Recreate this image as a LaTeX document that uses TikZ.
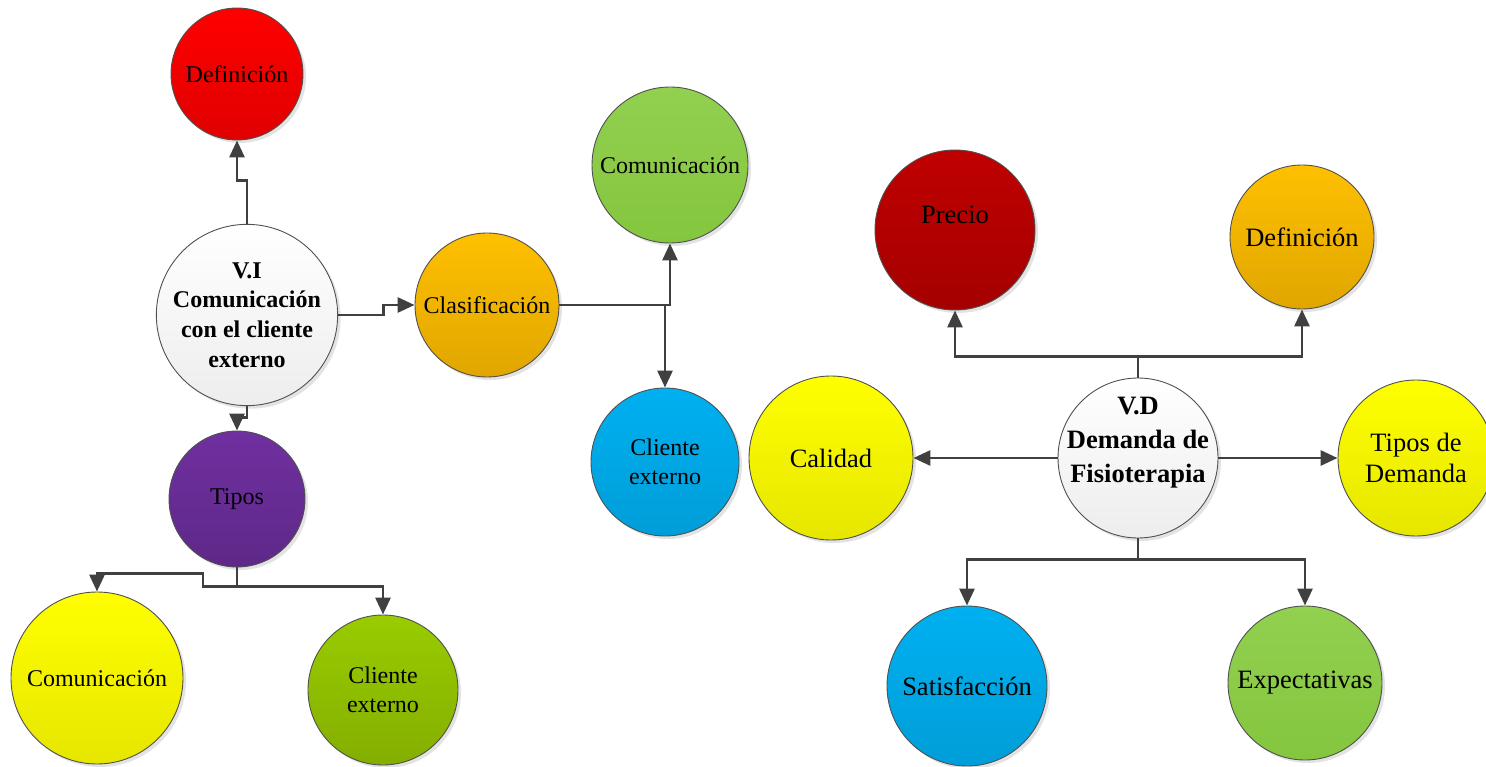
\documentclass[tikz,border=0pt]{standalone}
\usepackage{fontspec}
\setmainfont{Liberation Serif}
\usetikzlibrary{arrows.meta,shadows,calc}

\definecolor{linegrey}{HTML}{404040}
\definecolor{rimgrey}{HTML}{505050}
\definecolor{whiteA}{HTML}{FFFFFF}   \definecolor{whiteB}{HTML}{EDEDED}
\definecolor{redA}{HTML}{FF0000}     \definecolor{redB}{HTML}{E00000}
\definecolor{orangeA}{HTML}{FFC000}  \definecolor{orangeB}{HTML}{E0A600}
\definecolor{lgreenA}{HTML}{92D050}  \definecolor{lgreenB}{HTML}{84C63E}
\definecolor{blueA}{HTML}{00B0F0}    \definecolor{blueB}{HTML}{009ED8}
\definecolor{purpleA}{HTML}{7030A0}  \definecolor{purpleB}{HTML}{5E2888}
\definecolor{yellowA}{HTML}{FFFF00}  \definecolor{yellowB}{HTML}{E6E600}
\definecolor{oliveA}{HTML}{99CC00}   \definecolor{oliveB}{HTML}{84AE00}
\definecolor{dredA}{HTML}{C00000}    \definecolor{dredB}{HTML}{A40000}

\tikzset{
  bubble/.style={circle, draw=rimgrey, line width=0.9pt, inner sep=0pt, align=center,
    text=black, minimum size=#1,
    drop shadow={shadow xshift=3pt, shadow yshift=-3pt, opacity=0.18, fill=black!60}},
  smalltxt/.style={font=\fontsize{24}{29.5}\selectfont},
  bigtxt/.style={font=\fontsize{26.5}{31}\selectfont},
  grad/.style={top color=#1A, bottom color=#1B},
  conn/.style={draw=linegrey, line width=2.9pt,
    -{Triangle[length=17pt,width=15pt]}},
}

\begin{document}
\begin{tikzpicture}[x=1pt,y=-1pt]
\useasboundingbox (0,0) rectangle (1486,767);

% ---------- independent variable ----------
\node[bubble=174pt, grad=white, font=\fontsize{24}{29.7}\selectfont\bfseries] (vi) at (247,315)
      {V.I\\Comunicación\\con el cliente\\externo};
\node[bubble=132pt, grad=red, smalltxt] (defl) at (237,74) {Definición};
\node[bubble=144pt, grad=orange, smalltxt] (clas) at (487,305) {Clasificación};
\node[bubble=156pt, grad=lgreen, smalltxt] (comg) at (670,165) {Comunicación};
\node[bubble=148pt, grad=blue, smalltxt] (cli) at (665,462) {Cliente\\externo};
\node[bubble=136pt, grad=purple, smalltxt] (tipos) at (237,499) {Tipos};
\node[bubble=172pt, grad=yellow, smalltxt] (comy) at (97,678) {Comunicación};
\node[bubble=150pt, grad=olive, smalltxt] (cle2) at (383,690) {Cliente\\externo};

% ---------- dependent variable ----------
\node[bubble=160pt, grad=white,
      label={[font=\fontsize{26.5}{34}\selectfont\bfseries, align=center, yshift=15pt]center:{V.D\\Demanda de\\Fisioterapia}}]
      (vd) at (1138,458) {};
\node[bubble=160pt, grad=dred,
      label={[bigtxt, yshift=15pt]center:Precio}] (precio) at (955,230) {};
\node[bubble=144pt, grad=orange, bigtxt] (defr) at (1302,237) {Definición};
\node[bubble=164pt, grad=yellow, bigtxt] (cal) at (831,458) {Calidad};
\node[bubble=156pt, grad=yellow, bigtxt] (tdd) at (1416,458) {Tipos de\\Demanda};
\node[bubble=160pt, grad=blue, bigtxt] (sat) at (967,686) {Satisfacción};
\node[bubble=154pt, grad=lgreen, bigtxt] (expe) at (1305,683) {Expectativas};

% ---------- connectors, left group ----------
\draw[conn] (vi.north) -- ++(0,-43) -| (defl.south);
\draw[conn] (vi.east) -- ++(45,0) |- (clas.west);
\draw[conn] (vi.south) -- ++(0,11) -| (tipos.north);
\draw[conn] (clas.east) -| (comg.south);
\draw[conn] (clas.east) -| (cli.north);
\draw[conn] (tipos.south) -- ++(0,19) -| (cle2.north);
\draw[conn] ($(tipos.south)+(0,19)$) -| ++(-34,-13) -| (comy.north);

% ---------- connectors, right group ----------
\draw[conn] (vd.north) -- ++(0,-21) -| (precio.south);
\draw[conn] (vd.north) -- ++(0,-21) -| (defr.south);
\draw[conn] (vd.west) -- (cal.east);
\draw[conn] (vd.east) -- (tdd.west);
\draw[conn] (vd.south) -- ++(0,21) -| (sat.north);
\draw[conn] (vd.south) -- ++(0,21) -| (expe.north);
\end{tikzpicture}
\end{document}
